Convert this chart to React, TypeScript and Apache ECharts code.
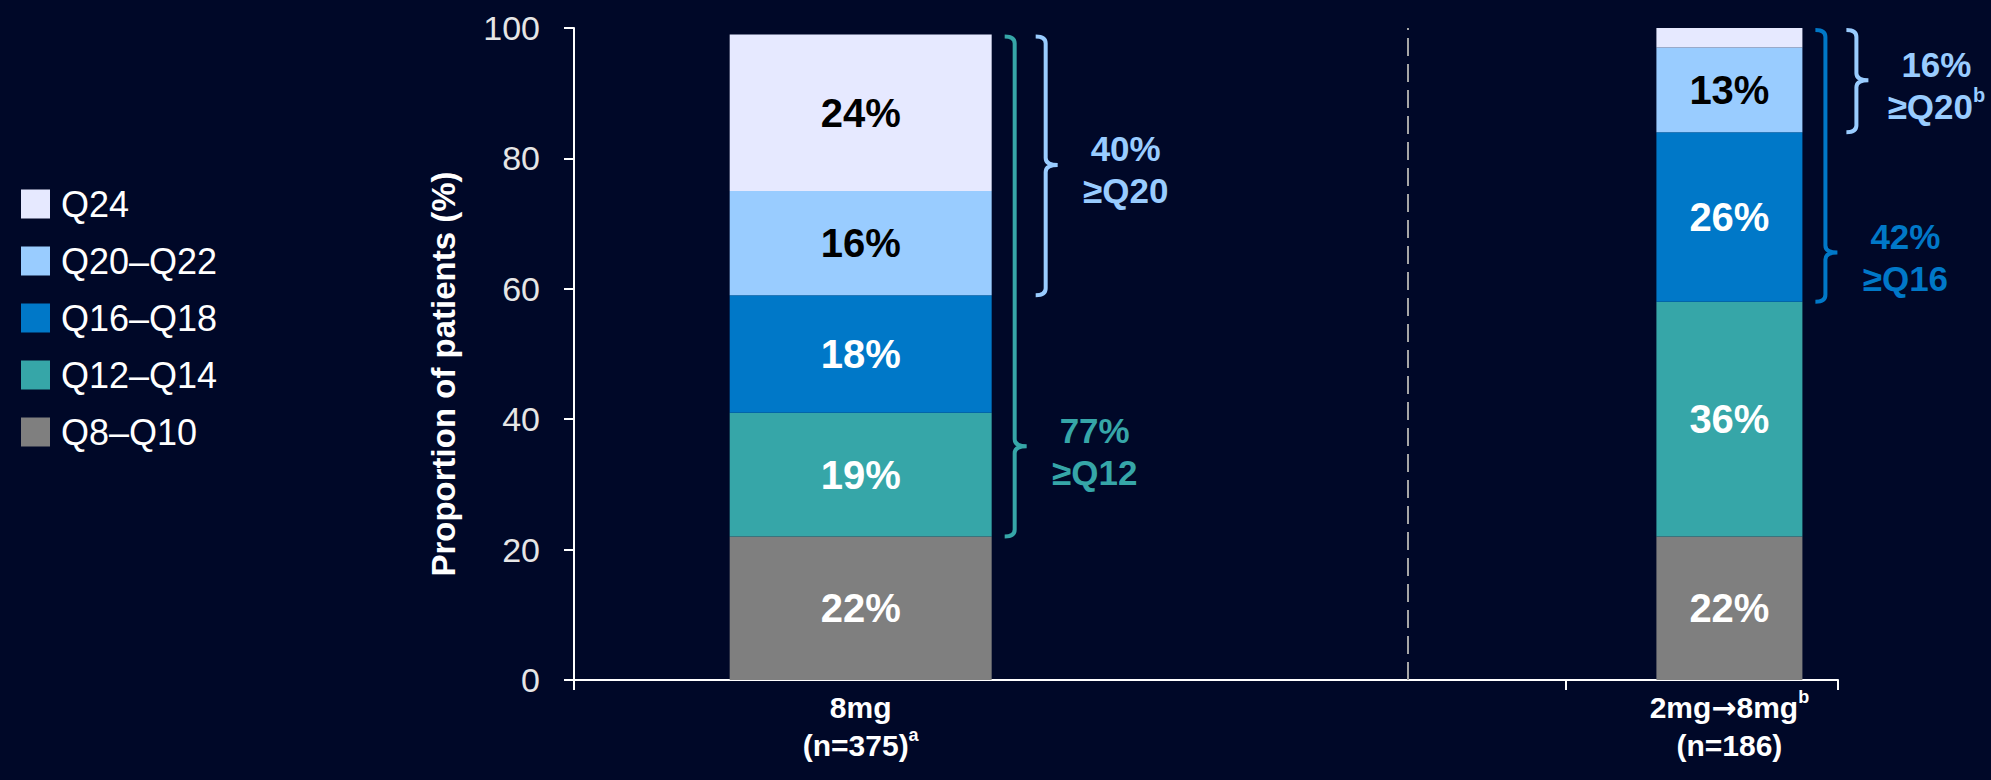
import React, { useEffect, useRef } from "react";
import * as echarts from "echarts";

// ---------- data ----------
const bands = ["Q8–Q10", "Q12–Q14", "Q16–Q18", "Q20–Q22", "Q24"];
const bandStarts = ["Q8", "Q12", "Q16", "Q20", "Q24"];
const dose8mg = [22, 19, 18, 16, 24];
const dose2to8mg = [22, 36, 26, 13, 3];
const categoryNames = ["8mg", "2mg→8mg"];
const categoryN = [375, 186];
const nameFootnotes = ["", "b"];
const nFootnotes = ["a", ""];
const yTickLabels = [0, 20, 40, 60, 80, 100];
// cumulative brackets: which bar, first band included, footnote
const bracketBar = [0, 0, 1, 1];
const bracketFromBand = [1, 3, 2, 3];
const bracketFootnote = ["", "", "", "b"];

// ---------- style / layout ----------
const BG = "#000828";
const FONT = "'Liberation Sans', Arial, Helvetica, sans-serif";
const bandColors = ["#7f7f7f", "#36a6a8", "#0078c8", "#99ccff", "#e6e9ff"];
const labelColors = ["#ffffff", "#ffffff", "#ffffff", "#000000", "#000000"];
const BAR_WIDTHS = [262, 146];
const X_MIN = -0.33;
const X_MAX = 1.125;
const X_TICK_MID = 0.812;
const DIVIDER_X = 0.632;

const barValues = [dose8mg, dose2to8mg];

function sumTo(arr: number[], n: number) {
  let s = 0;
  for (let i = 0; i < n; i++) s += arr[i];
  return s;
}

export default function App() {
  const ref = useRef<HTMLDivElement>(null);

  useEffect(() => {
    const chart = echarts.init(ref.current!, null, { renderer: "svg" });

    const barSeries: any[] = [];
    barValues.forEach((vals, k) => {
      vals.forEach((v, j) => {
        const s: any = {
          type: "bar",
          name: bands[j],
          xAxisIndex: k,
          yAxisIndex: 0,
          stack: "bar" + k,
          barWidth: BAR_WIDTHS[k],
          // value first so that the stack is computed on the y dimension
          data: [[v, k]],
          encode: { x: 1, y: 0 },
          itemStyle: { color: bandColors[j] },
          emphasis: { disabled: true },
          label: {
            show: v >= 5,
            position: "inside",
            formatter: (p: any) => p.value[0] + "%",
            color: labelColors[j],
            fontSize: 40,
            fontWeight: "bold",
            fontFamily: FONT,
          },
        };
        if (k === 0 && j === 0) {
          s.markLine = {
            silent: true,
            symbol: ["none", "none"],
            label: { show: false },
            lineStyle: { color: "#a6a6a6", width: 2, type: [18, 8] },
            data: [{ xAxis: DIVIDER_X }],
          };
        }
        barSeries.push(s);
      });
    });

    const bracketData = bracketBar.map((b, i) => {
      const vals = barValues[b];
      const from = sumTo(vals, bracketFromBand[i]);
      const to = sumTo(vals, vals.length);
      return [b, from, to, i];
    });

    const bracketSeries = {
      type: "custom",
      xAxisIndex: 0,
      yAxisIndex: 0,
      silent: true,
      z: 5,
      data: bracketData,
      encode: { x: 0, y: [1, 2] },
      renderItem: (params: any, api: any) => {
        const bar = api.value(0);
        const from = api.value(1);
        const to = api.value(2);
        const i = api.value(3);
        const fromBand = bracketFromBand[i];
        const outer = bracketBar.some(
          (bb, ii) => bb === bar && ii !== i && bracketFromBand[ii] < fromBand
        );
        const color = bandColors[fromBand];
        const nubVal = from + (outer ? 0.5 : 0.18) * (to - from);
        const cx = api.coord([bar, 0])[0];
        const x = cx + BAR_WIDTHS[bar] / 2 + (outer ? 54 : 23);
        const yTop = api.coord([bar, to])[1] + 2;
        const yBot = api.coord([bar, from])[1];
        const yNub = api.coord([bar, nubVal])[1];
        const hw = 10;
        const nw = 12;
        const r = 7;
        const d =
          `M${x - hw},${yTop} Q${x},${yTop} ${x},${yTop + r} ` +
          `L${x},${yNub - r} Q${x},${yNub} ${x + nw},${yNub} ` +
          `Q${x},${yNub} ${x},${yNub + r} ` +
          `L${x},${yBot - r} Q${x},${yBot} ${x - hw},${yBot}`;
        const pct = Math.round(to - from) + "%";
        const fn = bracketFootnote[i];
        const text =
          `{p|${pct}}\n{p|≥${bandStarts[fromBand]}}` + (fn ? `{s|${fn}}` : "");
        return {
          type: "group",
          children: [
            {
              type: "path",
              shape: { pathData: d },
              style: { stroke: color, lineWidth: 4, fill: "none" },
            },
            {
              type: "text",
              x: x + nw + 68,
              y: yNub + 5,
              style: {
                text,
                align: "center",
                verticalAlign: "middle",
                fill: color,
                rich: {
                  p: {
                    fontSize: 35,
                    fontWeight: "bold",
                    fontFamily: FONT,
                    fill: color,
                    lineHeight: 42,
                  },
                  s: {
                    fontSize: 20,
                    fontWeight: "bold",
                    fontFamily: FONT,
                    fill: color,
                    lineHeight: 22,
                    verticalAlign: "top",
                  },
                },
              },
            },
          ],
        };
      },
    };

    const catRich = {
      b: { fontSize: 30, fontWeight: "bold", color: "#ffffff", fontFamily: FONT, lineHeight: 38 },
      ar: { fontSize: 30, fontWeight: "bold", color: "#ffffff", fontFamily: "'DejaVu Sans', sans-serif", lineHeight: 38 },
      s: { fontSize: 18, fontWeight: "bold", color: "#ffffff", fontFamily: FONT, lineHeight: 24, verticalAlign: "top" },
    };

    const richName = (name: string) =>
      name
        .split("→")
        .map((part) => `{b|${part}}`)
        .join("{ar|→}");

    const option: any = {
      animation: false,
      backgroundColor: BG,
      textStyle: { fontFamily: FONT },
      grid: { left: 574, right: 153, top: 28, bottom: 100, containLabel: false },
      legend: {
        orient: "vertical",
        left: 16,
        top: 179,
        itemWidth: 29,
        itemHeight: 29,
        itemGap: 17,
        icon: "rect",
        selectedMode: false,
        data: [...bands].reverse(),
        textStyle: {
          color: "#ffffff",
          fontSize: 36,
          fontFamily: FONT,
          lineHeight: 40,
          padding: [0, 0, 0, 6],
        },
      },
      xAxis: [
        {
          type: "value",
          min: X_MIN,
          max: X_MAX,
          axisLine: { show: true, onZero: false, lineStyle: { color: "#ffffff", width: 2 } },
          axisTick: {
            show: true,
            customValues: [X_MIN, X_TICK_MID, X_MAX],
            length: 10,
            lineStyle: { color: "#ffffff", width: 2 },
          },
          axisLabel: {
            show: true,
            customValues: [0, 1],
            margin: 8,
            formatter: (v: number) => {
              const k = Math.round(v);
              const n1 = richName(categoryNames[k]) + (nameFootnotes[k] ? `{s|${nameFootnotes[k]}}` : "");
              const n2 = `{b|(n=${categoryN[k]})}` + (nFootnotes[k] ? `{s|${nFootnotes[k]}}` : "");
              return n1 + "\n" + n2;
            },
            rich: catRich,
          },
          splitLine: { show: false },
        },
        {
          type: "value",
          min: X_MIN,
          max: X_MAX,
          show: false,
          splitLine: { show: false },
        },
      ],
      yAxis: {
        type: "value",
        min: yTickLabels[0],
        max: yTickLabels[yTickLabels.length - 1],
        interval: yTickLabels[1] - yTickLabels[0],
        name: "Proportion of patients (%)",
        nameLocation: "middle",
        nameGap: 114,
        nameTextStyle: {
          color: "#ffffff",
          fontSize: 33,
          fontWeight: "bold",
          fontFamily: FONT,
          padding: [0, 40, 0, 0],
        },
        axisLine: { show: true, onZero: false, lineStyle: { color: "#ffffff", width: 2 } },
        axisTick: { show: true, length: 10, lineStyle: { color: "#ffffff", width: 2 } },
        axisLabel: { color: "#e6e6e6", fontSize: 34, margin: 34, fontFamily: FONT },
        splitLine: { show: false },
      },
      series: [...barSeries, bracketSeries],
    };

    chart.setOption(option);
    return () => chart.dispose();
  }, []);

  return (
    <div
      ref={ref}
      style={{ position: "fixed", left: 0, top: 0, width: 1991, height: 780, background: BG }}
    />
  );
}
